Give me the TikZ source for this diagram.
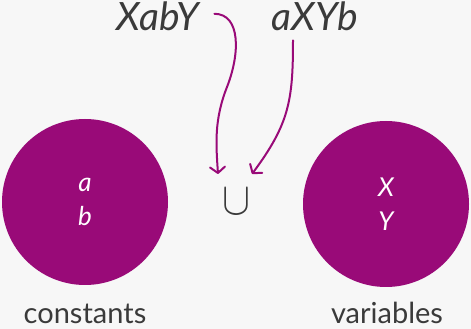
\documentclass[tikz,border=0pt]{standalone}
\usepackage{fontspec}
\setmainfont{Lato}
\usetikzlibrary{arrows.meta}
\definecolor{plum}{HTML}{990A78}
\definecolor{ink}{HTML}{3A3A3A}
\definecolor{paper}{HTML}{F7F7F7}
\tikzset{
  setdisc/.style={circle,fill=plum,minimum size=166pt,inner sep=0pt,text=white,
    align=center,font=\fontsize{26}{34}\selectfont\itshape},
  setname/.style={anchor=base,inner sep=0pt,text=ink,font=\fontsize{29}{30}\selectfont},
  word/.style={anchor=base,inner sep=0pt,text=ink,font=\fontsize{39}{44}\selectfont\itshape},
  feed/.style={->,draw=plum,line width=2pt}
}
\begin{document}
\begin{tikzpicture}[>={Straight Barb[length=6pt,width=15pt,round]},x=1pt,y=1pt,line cap=round]
	\fill[paper] (0,0) rectangle (471,329);
	\node[setdisc] (consts) at (85,127) {a\\b};
	\node[setdisc] (vars) at (386,125) {X\\Y};
	\node[setname] (cname) at (85,5) {constants};
	\node[setname] (vname) at (387,5) {variables};
	\node[word] (xaby) at (158,298) {XabY};
	\node[word] (axyb) at (315,298) {aXYb};
	\node[text=ink,inner sep=0pt,xscale=4.2,yscale=4.6] (cup) at (236,127) {$\cup$};
	\coordinate (inL) at (218,155);
	\coordinate (inR) at (252,155);
	\draw[feed] ([xshift=15pt,yshift=3pt]xaby.east) .. controls (241,315) and (240,275) .. (227,242)
		.. controls (214,209) and (216,185) .. (inL);
	\draw[feed] ([xshift=-22pt,yshift=-9pt]axyb.south) .. controls (293,228) and (289,205) .. (inR);
\end{tikzpicture}
\end{document}
